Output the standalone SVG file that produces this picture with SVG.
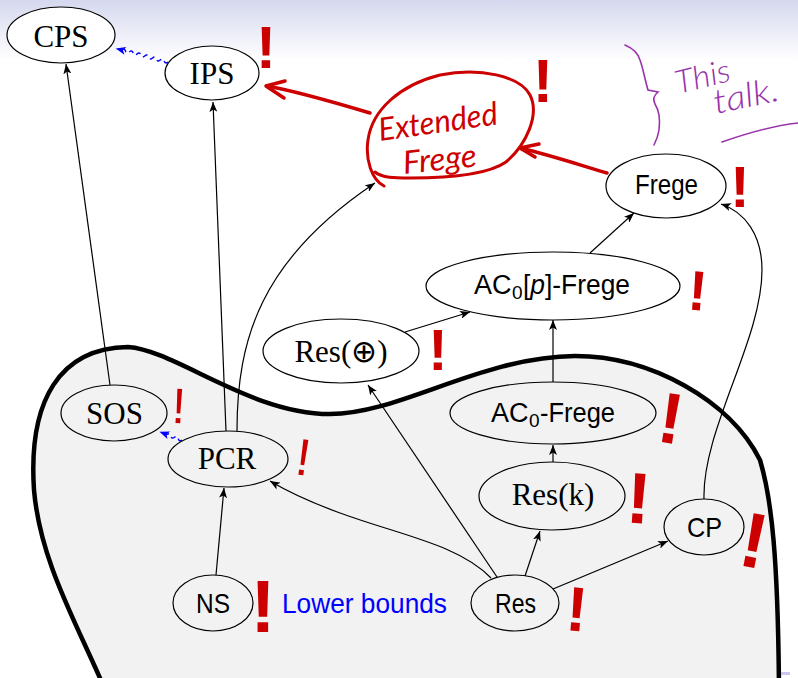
<svg xmlns="http://www.w3.org/2000/svg" width="798" height="678" viewBox="0 0 798 678">
<defs>
  <linearGradient id="hdr" x1="0" y1="0" x2="0" y2="1">
    <stop offset="0" stop-color="#d5d8ee"/>
    <stop offset="1" stop-color="#ffffff"/>
  </linearGradient>
  <marker id="ah" viewBox="0 0 10 8" refX="10" refY="4" markerWidth="10" markerHeight="8" orient="auto" markerUnits="userSpaceOnUse">
    <path d="M0,0 L10,4 L0,8 L2.5,4 Z" fill="#000"/>
  </marker>
  <style>
    .node ellipse { fill: #ffffff; stroke: #000; stroke-width: 1.2; }
    .in ellipse { fill: #f2f2f2; }
    .serif { font-family: "Liberation Serif", "Times New Roman", serif; font-size: 31px; fill: #000; text-anchor: middle; }
    .sans { font-family: "Liberation Sans", Arial, sans-serif; font-size: 28px; fill: #000; text-anchor: middle; }
    .sl { font-family: "Liberation Sans", Arial, sans-serif; font-size: 27px; fill: #000; }
    .sub { font-family: "Liberation Sans", Arial, sans-serif; font-size: 19px; fill: #000; }
    .edge { fill: none; stroke: #000; stroke-width: 1.2; marker-end: url(#ah); }
    .wave { fill: none; stroke: #0000ff; stroke-width: 1.4; stroke-dasharray: 5 4; }
    .ink { fill: none; stroke: #cc0000; stroke-width: 3.5; stroke-linecap: round; stroke-linejoin: round; }
    .excl { font-family: "Liberation Sans", Arial, sans-serif; fill: #cc0000; text-anchor: middle; }
    .hand { font-family: Lato, "Open Sans", sans-serif; font-style: italic; }
    .purple { fill: none; stroke: #9933aa; stroke-width: 1.6; stroke-linecap: round; }
  </style>
</defs>

<rect x="0" y="0" width="798" height="678" fill="#ffffff"/>
<rect x="0" y="0" width="798" height="60" fill="url(#hdr)"/>

<!-- lower-bounds region -->
<path id="region" d="M110,702 L103,685 C75,620 40,560 34,490 C28,400 60,348 128,347 C175,350 250,414 330,414 C400,414 480,357 575,356 C650,356 730,400 760,460 C772,500 778,560 779,690 L779,702 Z" fill="#f2f2f2" stroke="#000" stroke-width="4.5"/>
<rect x="781" y="672" width="9" height="3" fill="#c8c8f0"/>

<!-- connectors -->
<g id="connectors">
  <path class="edge" d="M110,385 L66,64"/>
  <path class="edge" d="M226,431 L213,102"/>
  <path class="edge" d="M237,431 C237,340 260,260 375,183"/>
  <path class="edge" d="M405,332 L470,312"/>
  <path class="edge" d="M590,253 L634,213"/>
  <path class="edge" d="M553,382 L553,320"/>
  <path class="edge" d="M553,462 L553,445"/>
  <path class="edge" d="M525,576 L540,531"/>
  <path class="edge" d="M553,589 L668,541"/>
  <path class="edge" d="M704,499 C702,430 762,340 762,270 C762,235 745,212 721,204"/>
  <path class="edge" d="M497,577 L368,385"/>
  <path class="edge" d="M491,578 C460,545 400,535 340,513 C310,502 290,493 270,481"/>
  <path class="edge" d="M216,575 L224,488"/>
  <!-- blue snake arrows -->
  <g transform="translate(168,62) rotate(194.6)">
    <path class="wave" d="M0,0 q2,-3 4,0 t4,0 t4,0 t4,0 t4,0 t4,0 t4,0 t4,0 t4,0 t4,0 t4,0 t4,0 L52,0"/>
    <path d="M44,-4 L54,0 L44,4 L46.5,0 Z" fill="#0000ff"/>
  </g>
  <g transform="translate(182,440) rotate(200)">
    <path class="wave" d="M0,0 q2,-3 4,0 t4,0 t4,0 t4,0 L20,0"/>
    <path d="M14,-4 L24,0 L14,4 L16.5,0 Z" fill="#0000ff"/>
  </g>
  <!-- red hand-drawn arrows -->
  <path class="ink" d="M370,113 C340,104 300,92 267,86"/>
  <path class="ink" d="M285,81 L266,86 L284,98"/>
  <path class="ink" d="M607,173 C580,165 550,155 520,148"/>
  <path class="ink" d="M539,144 L520,148 L535,157"/>
</g>

<!-- nodes -->
<g id="CPS" class="node"><ellipse cx="61" cy="35" rx="54" ry="28"/><text class="serif" x="61" y="47">CPS</text></g>
<g id="IPS" class="node"><ellipse cx="212" cy="73" rx="47" ry="27"/><text class="serif" x="212" y="84">IPS</text></g>
<g id="ExtendedFrege">
  <path class="ink" style="stroke-width:3" d="M384,186 C372,180 365,160 368,140 C372,110 400,85 440,75 C480,67 520,76 530,95 C540,115 526,145 506,162 C486,176 440,178 410,178 C395,178 382,178 375,172"/>
  <text class="hand" x="380" y="141" font-size="32" fill="#cc0000" transform="rotate(-8 380 141)" textLength="120" lengthAdjust="spacingAndGlyphs">Extended</text>
  <text class="hand" x="404" y="174" font-size="32" fill="#cc0000" transform="rotate(-6 404 174)" textLength="74" lengthAdjust="spacingAndGlyphs">Frege</text>
</g>
<g id="Frege" class="node"><ellipse cx="666" cy="186" rx="60" ry="32"/><text class="sans" x="666.5" y="194" textLength="63" lengthAdjust="spacingAndGlyphs">Frege</text></g>
<g id="AC0pFrege" class="node"><ellipse cx="553" cy="286" rx="127" ry="34"/>
  <text class="sl" x="474" y="294">AC</text>
  <text class="sub" x="512" y="299">0</text>
  <text class="sl" x="523" y="294" textLength="107" lengthAdjust="spacingAndGlyphs">[<tspan font-style="italic">p</tspan>]-Frege</text>
</g>
<g id="ResXor" class="node"><ellipse cx="341" cy="351" rx="78" ry="32"/><text class="serif" x="341" y="362">Res(⊕)</text></g>
<g id="SOS" class="node in"><ellipse cx="114" cy="413" rx="53" ry="28"/><text class="serif" x="114.5" y="424">SOS</text></g>
<g id="PCR" class="node in"><ellipse cx="228" cy="459" rx="60" ry="28"/><text class="serif" x="227" y="469">PCR</text></g>
<g id="AC0Frege" class="node in"><ellipse cx="553" cy="413" rx="103" ry="31"/>
  <text class="sl" x="491" y="422">AC</text>
  <text class="sub" x="529" y="427">0</text>
  <text class="sl" x="540" y="422" textLength="75" lengthAdjust="spacingAndGlyphs">-Frege</text>
</g>
<g id="ResK" class="node in"><ellipse cx="552" cy="496" rx="73" ry="34"/><text class="serif" x="553" y="505">Res(k)</text></g>
<g id="CP" class="node in"><ellipse cx="704" cy="527" rx="40" ry="28"/><text class="sans" x="704.5" y="537" textLength="35" lengthAdjust="spacingAndGlyphs">CP</text></g>
<g id="NS" class="node in"><ellipse cx="213" cy="603" rx="40" ry="28"/><text class="sans" x="213" y="613" textLength="34" lengthAdjust="spacingAndGlyphs">NS</text></g>
<g id="Res" class="node in"><ellipse cx="515" cy="603" rx="44" ry="28"/><text class="sans" x="515.5" y="613" textLength="41" lengthAdjust="spacingAndGlyphs">Res</text></g>

<text id="lowerbounds" x="282" y="613" font-family="Liberation Sans, Arial, sans-serif" font-size="28" fill="#0000ff" textLength="165" lengthAdjust="spacingAndGlyphs">Lower bounds</text>

<!-- exclamation marks -->
<g id="marks">
  <text class="excl" font-weight="bold" font-size="60" x="266" y="68">!</text>
  <text class="excl" font-weight="bold" font-size="61" x="543" y="102">!</text>
  <text class="excl" font-weight="bold" font-size="58" x="740" y="207">!</text>
  <text class="excl" font-weight="bold" font-size="56" x="696" y="310" transform="rotate(5 696 310)">!</text>
  <text class="excl" font-weight="bold" font-size="58" x="438" y="370">!</text>
  <text class="excl" font-size="50" x="178" y="423" transform="rotate(3 178 423)">!</text>
  <text class="excl" font-size="52" x="301" y="475" transform="rotate(8 301 475)">!</text>
  <text class="excl" font-weight="bold" font-size="72" x="667" y="443" transform="rotate(9 667 443)">!</text>
  <text class="excl" font-weight="bold" font-size="72" x="637" y="523" transform="rotate(4 637 523)">!</text>
  <text class="excl" font-weight="bold" font-size="78" x="749" y="567" transform="rotate(11 749 567)">!</text>
  <text class="excl" font-weight="bold" font-size="75" x="263" y="632">!</text>
  <text class="excl" font-weight="bold" font-size="63" x="575" y="631" transform="rotate(5 575 631)">!</text>
</g>

<!-- "This talk." annotation -->
<g id="thistalk">
  <path class="purple" d="M625,45 C632,48 638,53 640,60 C643,68 645,80 648,90 L658,92 C653,96 653,100 655,104 C660,112 660,122 659,130 C658,137 656,141 654,145"/>
  <text class="hand" x="678" y="94" font-size="32" font-weight="300" fill="#9933aa" transform="rotate(-14 678 94)" textLength="56" lengthAdjust="spacingAndGlyphs">This</text>
  <text class="hand" x="716" y="114" font-size="34" font-weight="300" fill="#9933aa" transform="rotate(-12 716 114)" textLength="66" lengthAdjust="spacingAndGlyphs">talk.</text>
  <path class="purple" d="M722,142 C745,134 770,126 798,123"/>
</g>
</svg>
